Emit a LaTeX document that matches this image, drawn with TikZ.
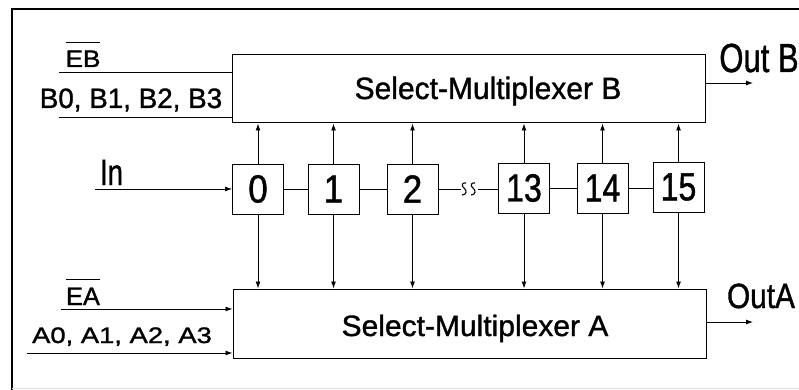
\documentclass[tikz,border=0pt]{standalone}
\usepackage{fontspec}
\usepackage{graphicx}
\setmainfont[FakeBold=1.2]{Liberation Sans}
\usetikzlibrary{arrows.meta}
\newcommand\lbl[3]{\scalebox{#1}[#2]{\fontsize{20}{24}\selectfont #3}}
\newcommand\ovl[1]{\vbox{\hrule height 1pt\kern 6pt\hbox{#1}}}
\tikzset{
  mux/.style={draw, line width=1pt, minimum width=473pt, minimum height=68pt, inner sep=0pt},
  reg/.style={draw, line width=0.9pt, minimum width=51pt, minimum height=50pt, inner sep=0pt},
  txt/.style={inner sep=0pt, anchor=base},
  wire/.style={line width=0.9pt},
  arr/.style={line width=0.9pt, -{Latex[length=7pt,width=5pt]}},
  frame/.style={line width=2.2pt}
}
\begin{document}
\begin{tikzpicture}[x=1pt,y=-1pt]
\useasboundingbox (0,0) rectangle (799,390);
% frame
\draw[frame] (12,390) -- (12,9) -- (799,9);
\draw[gray!25, line width=1pt] (12,388) -- (799,388);
% multiplexers
\node[mux] (muxB) at (468.5,89) {};
\node[mux, minimum height=69pt] (muxA) at (469.5,323.5) {};
\node[txt] (tB) at (488,99) {\lbl{1.50}{1.54}{Select-Multiplexer B}};
\node[txt] (tA) at (475,336) {\lbl{1.50}{1.47}{Select-Multiplexer A}};
% registers
\node[reg] (r0)  at (258,189)   {\lbl{1.75}{1.96}{0}};
\node[reg] (r1)  at (333.5,189) {\lbl{1.75}{1.96}{1}};
\node[reg] (r2)  at (412.5,189) {\lbl{1.75}{1.96}{2}};
\node[reg] (r13) at (524,188)   {\lbl{1.6}{1.96}{13}};
\node[reg] (r14) at (602.5,188) {\lbl{1.6}{1.96}{14}};
\node[reg] (r15) at (678.5,187) {\lbl{1.6}{1.96}{15}};
% labels
\node[txt] (lEB) at (83,67)  {\lbl{1.31}{1.19}{\ovl{EB}}};
\node[txt] (lB)  at (131,108) {\lbl{1.39}{1.40}{B0, B1, B2, B3}};
\node[txt] (lEA) at (83,305) {\lbl{1.27}{1.26}{\ovl{EA}}};
\node[txt] (lA)  at (122,343) {\lbl{1.37}{1.12}{A0, A1, A2, A3}};
\node[txt] (lIn) at (111.5,185) {\lbl{1.38}{1.82}{In}};
\node[txt] (lOB) at (759,72) {\lbl{1.55}{2.03}{Out B}};
\node[txt] (lOA) at (761,308) {\lbl{1.49}{1.75}{OutA}};
% input wire endpoints
\coordinate (eb) at (59,72);
\coordinate (bsel) at (59,117);
\coordinate (ea) at (61,309);
\coordinate (asel) at (27,353);
\coordinate (in) at (95,189);
\coordinate (oB) at (753,83);
\coordinate (oA) at (753,322);
\draw[wire] (eb) -- (eb -| muxB.west);
\draw[wire] (bsel) -- (bsel -| muxB.west);
\draw[arr] (ea) -- (ea -| muxA.west);
\draw[arr] (asel) -- (asel -| muxA.west);
\draw[arr] (in) -- (r0.west);
\draw[arr] (oB -| muxB.east) -- (oB);
\draw[arr] (oA -| muxA.east) -- (oA);
% chain
\draw[wire] (r0) -- (r1);
\draw[wire] (r1) -- (r2);
\draw[wire] (r13) -- (r14);
\draw[wire] (r14.east) -- (r15.west |- r14);
\coordinate (b1) at (461,189);
\coordinate (b2) at (478,189);
\draw[wire] (r2.east) -- (b1);
\draw[wire] (b2) -- (b2 -| r13.west);
\draw[line width=1.1pt] (466,183) .. controls (462,182) and (461,186) .. (464,188)
  .. controls (467,190) and (467,195) .. (462,195);
\draw[line width=1.1pt] (475,183) .. controls (471,182) and (470,186) .. (473,188)
  .. controls (476,190) and (476,195) .. (471,195);
% vertical connections
\foreach \r in {r0,r1,r2,r13,r14,r15}{
  \draw[arr] (\r.north) -- (\r.north |- muxB.south);
  \draw[arr] (\r.south) -- (\r.south |- muxA.north);
}
\end{tikzpicture}
\end{document}
